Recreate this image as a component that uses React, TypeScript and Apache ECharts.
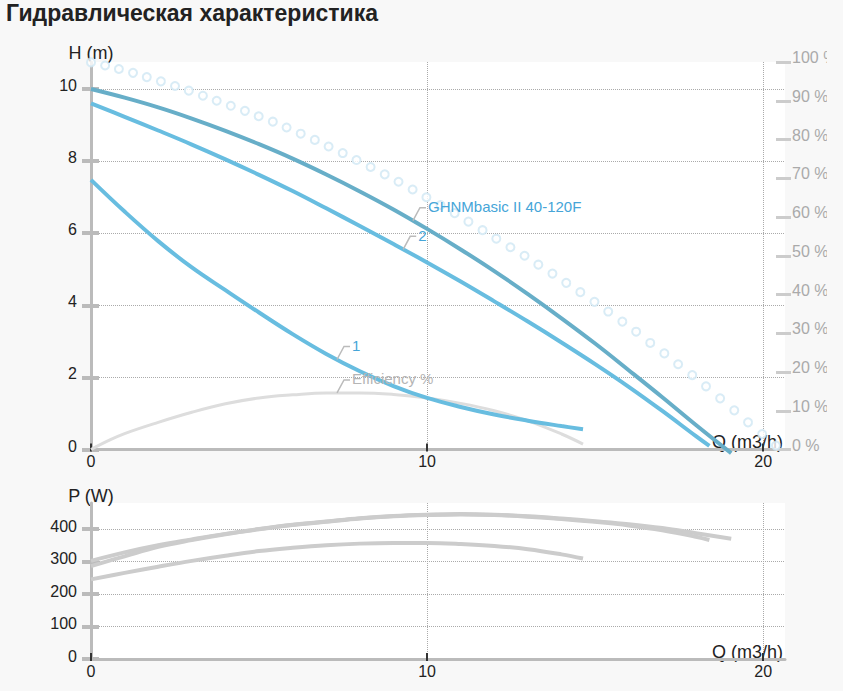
import React, { useEffect, useRef } from "react";
import * as echarts from "echarts";

const FONT = '"Liberation Sans", Arial, Helvetica, sans-serif';
const TITLE = "Гидравлическая характеристика";

// Tick values
const qTicks = [0, 10, 20];
const hTicks = [0, 2, 4, 6, 8, 10];
const pTicks = [0, 100, 200, 300, 400];

// Max curve (GHNMbasic II 40-120F)
const qMax = [0, 1, 2, 3, 4, 5, 6, 7, 8, 9, 10, 11, 12, 13, 14, 15, 16, 17, 18, 19.05];
const hMax = [10.0, 9.76, 9.49, 9.18, 8.84, 8.47, 8.07, 7.63, 7.16, 6.66, 6.12, 5.55, 4.95, 4.31, 3.64, 2.94, 2.2, 1.45, 0.68, -0.1];
const pMax = [302, 328, 350, 368, 385, 400, 413, 423, 433, 440, 444, 446, 444, 439, 432, 424, 415, 403, 387, 370];

// Speed 2
const q2 = [0, 1, 2, 3, 4, 5, 6, 7, 8, 9, 10, 11, 12, 13, 14, 15, 16, 17, 18, 18.4];
const h2 = [9.6, 9.23, 8.85, 8.46, 8.05, 7.62, 7.17, 6.69, 6.2, 5.7, 5.19, 4.66, 4.11, 3.55, 2.97, 2.37, 1.74, 1.07, 0.37, 0.1];
const p2 = [286, 316, 345, 366, 384, 399, 412, 422, 432, 439, 443, 445, 443, 438, 431, 422, 411, 396, 376, 366];

// Speed 1
const q1 = [0, 1, 2, 3, 4, 5, 6, 7, 8, 9, 10, 11, 12, 13, 14, 14.64];
const h1 = [7.48, 6.6, 5.78, 5.05, 4.42, 3.8, 3.2, 2.65, 2.17, 1.76, 1.43, 1.18, 0.97, 0.8, 0.65, 0.56];
const p1 = [245, 265, 284, 302, 318, 332, 342, 350, 355, 357, 357, 354, 348, 338, 322, 309];

// Efficiency (%)
const qEff = [0, 0.5, 1, 2, 3, 4, 5, 6, 7, 8, 9, 10, 11, 12, 13, 14, 14.64];
const eff = [0, 2.2, 4.1, 7.0, 9.6, 11.8, 13.3, 14.1, 14.6, 14.6, 14.2, 13.3, 11.9, 10.0, 7.4, 4.0, 1.4];

// Dotted circle curve (%)
const qDots = [
  0, 0.42, 0.83, 1.25, 1.66, 2.08, 2.5, 2.91, 3.33, 3.74, 4.16, 4.58, 4.99, 5.41, 5.82, 6.24, 6.66,
  7.07, 7.49, 7.9, 8.32, 8.74, 9.15, 9.57, 9.98, 10.4, 10.82, 11.23, 11.65, 12.06, 12.48, 12.9, 13.31,
  13.73, 14.14, 14.56, 14.98, 15.39, 15.81, 16.22, 16.64, 17.06, 17.47, 17.89, 18.3, 18.72, 19.14,
  19.55, 19.97, 20.38,
];
const dots = [
  99.9, 99.1, 98.2, 97.2, 96.1, 95.0, 93.8, 92.6, 91.3, 90.0, 88.7, 87.4, 86.0, 84.6, 83.1, 81.5, 79.9,
  78.2, 76.5, 74.7, 72.9, 71.0, 69.1, 67.1, 65.1, 63.1, 61.0, 58.8, 56.6, 54.4, 52.2, 50.0, 47.7,
  45.4, 43.0, 40.6, 38.1, 35.6, 33.0, 30.4, 27.5, 24.8, 22.0, 19.2, 16.3, 13.2, 10.1, 7.0, 4.0, 1.0,
];

const C_DARK = "#67aec8";
const C_LIGHT = "#68bde0";
const C_DOT = "#cfe7f4";
const C_TEXT = "#222";
const C_LABEL = "#45a5d8";

const pairs = (xs: number[], ys: number[]) => xs.map((x, i) => [x, ys[i]]);

function interp(xs: number[], ys: number[], q: number) {
  for (let i = 1; i < xs.length; i++) {
    if (q <= xs[i]) {
      const t = (q - xs[i - 1]) / (xs[i] - xs[i - 1]);
      return ys[i - 1] + t * (ys[i] - ys[i - 1]);
    }
  }
  return ys[ys.length - 1];
}

const labelSpecs = [
  { text: "GHNMbasic II 40-120F", q: 9.58, xs: qMax, ys: hMax, yAxisIndex: 0, color: C_LABEL },
  { text: "2", q: 9.29, xs: q2, ys: h2, yAxisIndex: 0, color: C_LABEL },
  { text: "1", q: 7.32, xs: q1, ys: h1, yAxisIndex: 0, color: C_LABEL },
  { text: "Efficiency %", q: 7.32, xs: qEff, ys: eff, yAxisIndex: 2, color: "#b5b5b5" },
];

const QMAX = 20.65;

function xMain(gridIndex: number) {
  return {
    gridIndex,
    type: "value",
    min: 0,
    max: QMAX,
    interval: 10,
    position: "bottom",
    axisLine: { show: true, onZero: false, lineStyle: { color: "#bbb", width: 3 } },
    axisTick: { show: false },
    axisLabel: { fontSize: 16, color: C_TEXT, fontFamily: FONT, margin: 4, customValues: qTicks },
    splitLine: { show: true, showMinLine: false, showMaxLine: false, lineStyle: { type: "dotted", color: "#aaa", width: 1 } },
    name: "Q (m3/h)",
    nameLocation: "end",
    nameGap: -2,
    nameMoveOverlap: false,
    nameTextStyle: { fontSize: 18, color: C_TEXT, fontFamily: FONT, align: "right", verticalAlign: "bottom", lineHeight: 15 },
  };
}
function xTicks(gridIndex: number) {
  return {
    gridIndex,
    type: "value",
    min: 0,
    max: QMAX,
    interval: 10,
    position: "bottom",
    offset: -6,
    axisLine: { show: false, onZero: false },
    axisTick: { show: true, length: 8, customValues: qTicks, lineStyle: { color: "#333", width: 2 } },
    axisLabel: { show: false },
    splitLine: { show: false },
  };
}

export default function App() {
  const ref = useRef<HTMLDivElement>(null);
  useEffect(() => {
    document.body.style.margin = "0";
    document.body.style.background = "#f8f8f8";
    const chart = echarts.init(ref.current!, null, { renderer: "svg" });
    const option: any = {
      animation: false,
      backgroundColor: "#f8f8f8",
      textStyle: { fontFamily: FONT },
      title: {
        text: TITLE,
        left: 6,
        top: 1,
        padding: 0,
        textStyle: { fontSize: 23, fontWeight: "bold", color: C_TEXT, fontFamily: FONT },
      },
      grid: [
        { left: 91, right: 42, top: 62, height: 387.5, show: true, backgroundColor: "#fff", borderWidth: 0, containLabel: false, outerBoundsMode: "none" },
        { left: 91, right: 42, top: 503, height: 156, show: true, backgroundColor: "#fff", borderWidth: 0, containLabel: false, outerBoundsMode: "none" },
      ],
      xAxis: [xMain(0), xTicks(0), xMain(1), xTicks(1)],
      yAxis: [
        {
          gridIndex: 0,
          type: "value",
          min: 0,
          max: 10.75,
          interval: 2,
          position: "left",
          axisLine: { show: true, lineStyle: { color: "#bbb", width: 3 } },
          axisTick: { show: false },
          axisLabel: { fontSize: 16, color: C_TEXT, fontFamily: FONT, margin: 14, customValues: hTicks, verticalAlign: "bottom", lineHeight: 7 },
          splitLine: { show: true, showMinLine: false, showMaxLine: false, lineStyle: { type: "dotted", color: "#aaa", width: 1 } },
          name: "H (m)",
          nameLocation: "end",
          nameGap: 9,
          nameMoveOverlap: false,
          nameTextStyle: { fontSize: 18, color: C_TEXT, fontFamily: FONT, align: "center", verticalAlign: "middle" },
        },
        {
          gridIndex: 0,
          type: "value",
          min: 0,
          max: 10.75,
          interval: 2,
          position: "left",
          offset: -8,
          axisLine: { show: false },
          axisTick: { show: true, length: 17, customValues: hTicks, lineStyle: { color: "#bbb", width: 4 } },
          axisLabel: { show: false },
          splitLine: { show: false },
        },
        {
          gridIndex: 0,
          type: "value",
          min: 0,
          max: 100,
          interval: 10,
          position: "right",
          offset: -9,
          axisLine: { show: false },
          axisTick: { show: true, length: 15, lineStyle: { color: "#ccc", width: 3 } },
          axisLabel: { fontSize: 16, color: "#aaa", fontFamily: FONT, margin: 16, formatter: "{value} %", verticalAlign: "bottom", lineHeight: 9 },
          splitLine: { show: false },
        },
        {
          gridIndex: 1,
          type: "value",
          min: 0,
          max: 480,
          interval: 100,
          position: "left",
          axisLine: { show: true, lineStyle: { color: "#bbb", width: 3 } },
          axisTick: { show: false },
          axisLabel: { fontSize: 16, color: C_TEXT, fontFamily: FONT, margin: 14, customValues: pTicks, verticalAlign: "bottom", lineHeight: 6 },
          splitLine: { show: true, showMinLine: false, showMaxLine: false, lineStyle: { type: "dotted", color: "#aaa", width: 1 } },
          name: "P (W)",
          nameLocation: "end",
          nameGap: 7,
          nameMoveOverlap: false,
          nameTextStyle: { fontSize: 18, color: C_TEXT, fontFamily: FONT, align: "center", verticalAlign: "middle" },
        },
        {
          gridIndex: 1,
          type: "value",
          min: 0,
          max: 480,
          interval: 100,
          position: "left",
          offset: -8,
          axisLine: { show: false },
          axisTick: { show: true, length: 17, customValues: pTicks, lineStyle: { color: "#bbb", width: 4 } },
          axisLabel: { show: false },
          splitLine: { show: false },
        },
      ],
      series: [
        {
          name: "dots",
          type: "scatter",
          xAxisIndex: 0,
          yAxisIndex: 2,
          data: pairs(qDots, dots),
          symbol: "emptyCircle",
          symbolSize: 8,
          itemStyle: { color: C_DOT, borderColor: C_DOT, borderWidth: 2 },
          silent: true,
        },
        {
          name: "Efficiency %",
          type: "line",
          xAxisIndex: 0,
          yAxisIndex: 2,
          data: pairs(qEff, eff),
          smooth: 0.4,
          showSymbol: false,
          lineStyle: { color: "#ddd", width: 3 },
        },
        {
          name: "GHNMbasic II 40-120F",
          type: "line",
          xAxisIndex: 0,
          yAxisIndex: 0,
          data: pairs(qMax, hMax),
          smooth: 0.4,
          showSymbol: false,
          clip: false,
          lineStyle: { color: C_DARK, width: 4 },
        },
        {
          name: "2",
          type: "line",
          xAxisIndex: 0,
          yAxisIndex: 0,
          data: pairs(q2, h2),
          smooth: 0.4,
          showSymbol: false,
          lineStyle: { color: C_LIGHT, width: 4 },
        },
        {
          name: "1",
          type: "line",
          xAxisIndex: 0,
          yAxisIndex: 0,
          data: pairs(q1, h1),
          smooth: 0.4,
          showSymbol: false,
          lineStyle: { color: C_LIGHT, width: 4 },
        },
        {
          name: "P max",
          type: "line",
          xAxisIndex: 2,
          yAxisIndex: 3,
          data: pairs(qMax, pMax),
          smooth: 0.4,
          showSymbol: false,
          lineStyle: { color: "#ccc", width: 4 },
        },
        {
          name: "P 2",
          type: "line",
          xAxisIndex: 2,
          yAxisIndex: 3,
          data: pairs(q2, p2),
          smooth: 0.4,
          showSymbol: false,
          lineStyle: { color: "#ccc", width: 4 },
        },
        {
          name: "P 1",
          type: "line",
          xAxisIndex: 2,
          yAxisIndex: 3,
          data: pairs(q1, p1),
          smooth: 0.4,
          showSymbol: false,
          lineStyle: { color: "#ccc", width: 4 },
        },
      ],
    };
    chart.setOption(option);

    const graphics: any[] = [];
    labelSpecs.forEach((s) => {
      const v = interp(s.xs, s.ys, s.q);
      const pt = chart.convertToPixel({ xAxisIndex: 0, yAxisIndex: s.yAxisIndex } as any, [s.q, v]) as number[];
      if (!pt) return;
      const [ax, ay] = pt;
      graphics.push({
        type: "polyline",
        silent: true,
        shape: { points: [[ax, ay], [ax + 7, ay - 13], [ax + 13, ay - 13]] },
        style: { stroke: "#bbb", lineWidth: 1.5, fill: null },
        z: 10,
      });
      graphics.push({
        type: "text",
        silent: true,
        x: ax + 15,
        y: ay - 14,
        style: {
          text: s.text,
          fill: s.color,
          fontSize: 15,
          fontFamily: FONT,
          verticalAlign: "middle",
          align: "left",
        },
        z: 10,
      });
    });
    chart.setOption({ graphic: graphics });

    return () => chart.dispose();
  }, []);
  return <div ref={ref} style={{ position: "absolute", left: 0, top: 0, width: 827, height: 691 }} />;
}
